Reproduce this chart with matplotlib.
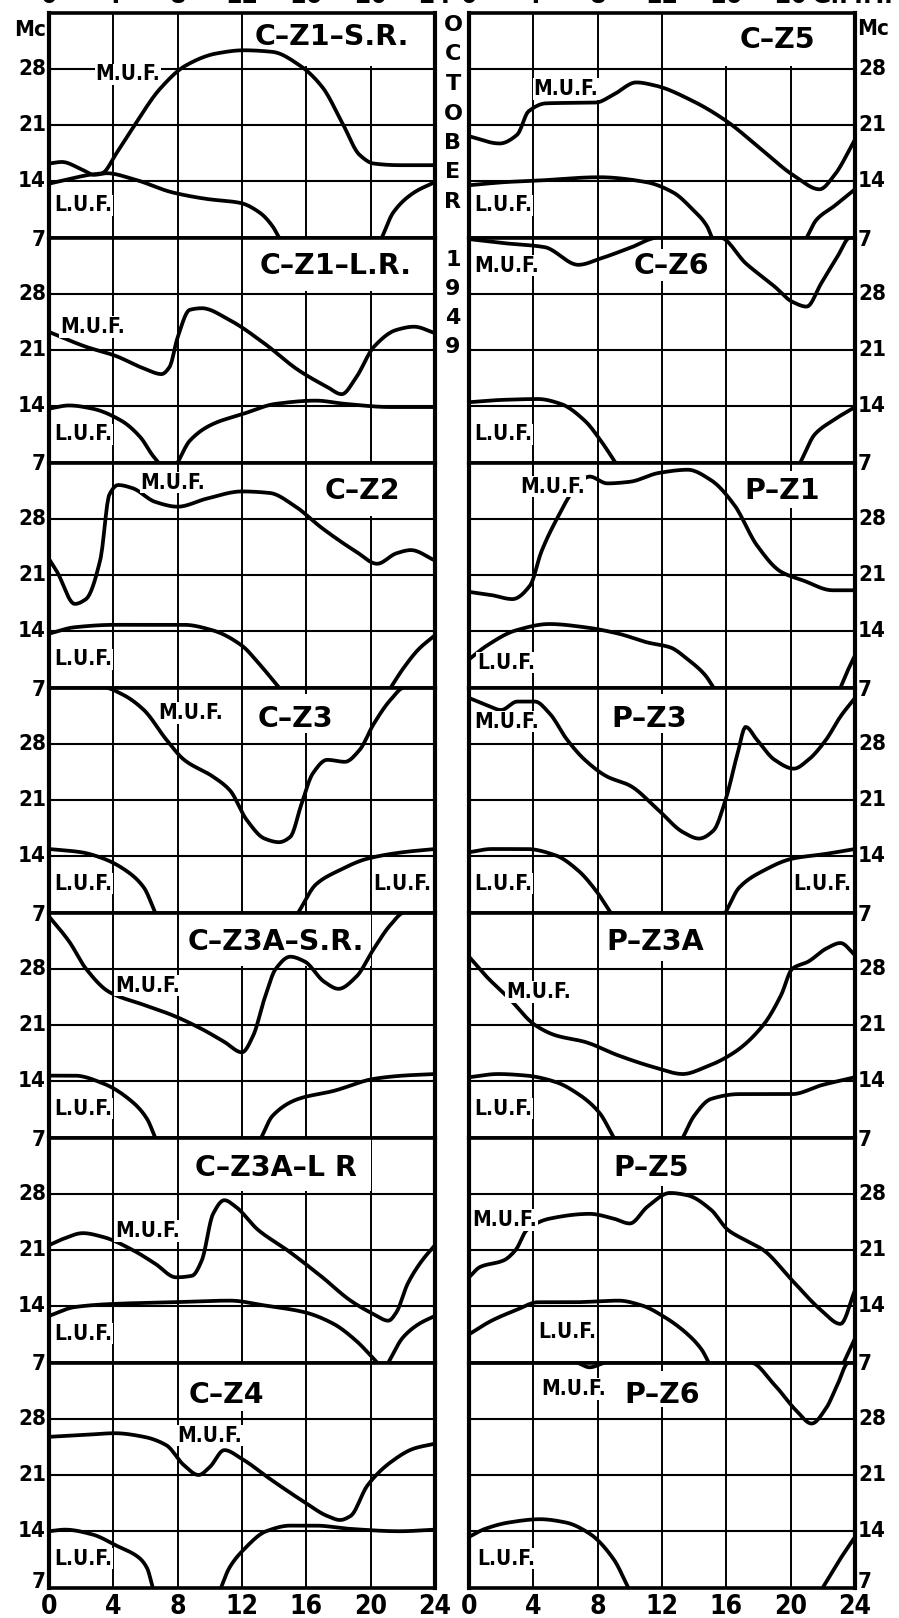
import numpy as np
import matplotlib
matplotlib.use("Agg")
import matplotlib.pyplot as plt
from matplotlib.patches import Rectangle

# ---------------------------------------------------------------------------
# Data: maximum (M.U.F.) and lowest (L.U.F.) usable frequency, Mc, vs hour GMT
# each curve is a list of (hour, Mc) pairs; L.U.F. is split into its
# morning and evening arcs (below 7 Mc it is off the chart)
# ---------------------------------------------------------------------------
hours_ticks = [0, 4, 8, 12, 16, 20, 24]
mc_ticks = [7, 14, 21, 28]

c_z1_sr_muf = [(0, 13.7), (1.3, 14.3), (2.5, 14.8), (3.3, 15.0), (4.2, 17.5), (5.2, 20.6),
               (6.9, 25.5), (8.5, 28.4), (10.4, 29.9), (12.1, 30.3), (13.9, 30.1), (15.6, 28.4),
               (17, 25.7), (18.3, 21), (19.3, 17.3), (20.2, 16.2), (21.8, 16), (24, 16)]
c_z1_sr_luf_am = [(0, 16.2), (0.8, 16.4), (2.1, 15.4), (2.8, 14.8), (3.6, 15.0), (5.2, 14.3),
                  (7.7, 12.6), (9.8, 11.8), (11.9, 11.3), (13.1, 10.1), (13.9, 8.4), (14.3, 7)]
c_z1_sr_luf_pm = [(20.7, 7), (21.4, 10.1), (22.7, 12.6), (24, 13.9)]

c_z5_muf = [(0, 19.6), (1.9, 18.7), (3, 19.8), (3.7, 22.7), (4.8, 23.7), (7.9, 23.8), (9, 24.8),
            (10.4, 26.3), (11.6, 25.9), (13.9, 24), (16, 21.5), (18.1, 18.1), (20.2, 14.7),
            (21.8, 13), (22.7, 14.7), (24, 19.2)]
c_z5_luf_am = [(0, 13.5), (2.3, 13.9), (4.4, 14.1), (8.1, 14.5), (11, 13.9), (12.7, 12.6),
               (13.9, 10.5), (14.8, 8.4), (15.1, 7)]
c_z5_luf_pm = [(21, 7), (21.6, 9.2), (22.7, 10.9), (24, 13)]

c_z1_lr_muf = [(0, 23.25), (2.3, 21.4), (4.1, 20.3), (5.9, 18.7), (7, 18), (7.5, 18.9), (8, 22.6),
               (8.75, 26), (9.5, 26.2), (11.25, 24.7), (13.4, 21.8), (15.5, 18.5), (17.3, 16.4),
               (18.2, 15.5), (19.1, 17.6), (20.2, 21.4), (21.6, 23.5), (22.7, 23.9), (24, 23.1)]
c_z1_lr_luf_am = [(0, 13.7), (1.25, 14.1), (2.7, 13.7), (4.5, 12.2), (5.7, 10.1), (6.4, 8), (6.8, 7)]
c_z1_lr_luf_pm = [(8, 7), (8.75, 9.7), (10.2, 11.8), (12, 13), (14.1, 14.3), (16.6, 14.7),
                  (18.4, 14.3), (21.25, 13.9), (24, 13.9)]

c_z6_muf = [(0, 34.8), (2.15, 34.3), (4.7, 33.8), (6.8, 31.6), (8.2, 32.4), (10, 33.7), (11.8, 35),
            (15.6, 35), (17.2, 31.8), (19, 28.9), (20.1, 27), (21, 26.4), (21.9, 29.3),
            (22.9, 32.6), (23.7, 35), (24, 35)]
c_z6_luf_am = [(0, 14.5), (2.15, 14.8), (4.3, 14.9), (5.7, 14.3), (7.2, 12.2), (8.2, 9.7), (9.1, 7)]
c_z6_luf_pm = [(20.6, 7), (21.5, 10.5), (22.6, 12.2), (24, 13.9)]

c_z2_muf = [(0, 23), (0.5, 21.4), (1.6, 17.4), (2.3, 18), (3.2, 23), (3.75, 31), (4.3, 32.2),
            (5.2, 31.8), (6.6, 30.1), (8, 29.5), (9.8, 30.5), (12, 31.4), (13.75, 31.2),
            (15.2, 29.7), (17, 26.8), (19.1, 23.9), (20.4, 22.4), (21.6, 23.7), (22.5, 24.1), (24, 22.8)]
c_z2_luf_am = [(0, 13.7), (1.6, 14.5), (4.1, 14.8), (8.4, 14.8), (10.2, 14.1), (12, 12.2),
               (13, 10.1), (14.3, 7)]
c_z2_luf_pm = [(21.25, 7), (22, 9.3), (23, 11.8), (24, 13.5)]

p_z1_muf = [(0, 18.9), (1.4, 18.5), (2.7, 18), (3.8, 19.7), (4.5, 23.9), (5.6, 28.5), (6.45, 31.4),
            (7.5, 33.25), (8.6, 32.4), (10, 32.6), (11.8, 33.7), (13.6, 34.1), (15.05, 32.8),
            (16.5, 29.7), (17.9, 24.7), (19.4, 21.4), (20.8, 20.3), (22.6, 19.1), (24, 19.1)]
p_z1_luf_am = [(0, 10.5), (1.1, 12.2), (2.9, 14.1), (5, 14.9), (7.2, 14.5), (9.3, 13.7),
               (11.1, 12.6), (12.5, 12), (13.6, 10.5), (14.7, 8.5), (15.2, 7)]
p_z1_luf_pm = [(23.1, 7), (23.5, 8.9), (24, 11)]

c_z3_muf = [(0, 35), (3.4, 35), (4.6, 34.1), (5.9, 32.2), (7.3, 28.5), (8.4, 26), (10.2, 23.9),
            (11.25, 22.2), (12.3, 18.5), (13.4, 16.2), (14.3, 15.75), (15, 16.4), (15.7, 20.5),
            (16.4, 24.3), (17.3, 26), (18.4, 25.75), (19.3, 27.2), (20.2, 30.5), (21.25, 33.5),
            (22.1, 35), (24, 35)]
c_z3_luf_am = [(0, 14.9), (2, 14.5), (3.4, 13.7), (4.8, 12.2), (5.9, 10.1), (6.6, 7)]
c_z3_luf_pm = [(15.5, 7), (16.6, 10.5), (18, 12.2), (19.8, 13.7), (22, 14.5), (24, 14.9)]

p_z3_muf = [(0, 33.7), (1.1, 32.8), (2, 32.2), (3, 33.25), (4.1, 33.25), (5, 31.8), (6.1, 28.5),
            (7.2, 26), (8.6, 23.9), (10, 22.8), (11.8, 19.7), (13.3, 17), (14.3, 16.2), (15.2, 17.2),
            (15.95, 21), (16.7, 26.8), (17.2, 30.1), (17.9, 28.5), (19, 26), (20.2, 24.9),
            (21.1, 26), (22.2, 28.5), (23.1, 31.4), (24, 33.7)]
p_z3_luf_am = [(0, 14.5), (1.4, 14.9), (3.6, 14.9), (5.4, 14.1), (6.8, 12.2), (7.9, 9.7), (8.8, 7)]
p_z3_luf_pm = [(15.95, 7), (16.8, 10.1), (18.3, 12.2), (20.1, 13.7), (22.2, 14.3), (24, 14.9)]

c_z3a_sr_muf = [(0, 34.5), (1.25, 31.4), (2.3, 28), (3.75, 25.1), (5.9, 23.5), (7.7, 22.2),
                (9.5, 20.5), (10.9, 18.9), (12, 17.6), (12.7, 19.7), (13.4, 24.3), (14.1, 28),
                (15, 29.5), (15.9, 28.9), (17.1, 26.4), (18, 25.5), (19.1, 27), (20.2, 30.5),
                (21.25, 33.5), (22.1, 35), (24, 35)]
c_z3a_sr_luf_am = [(0, 14.7), (1.6, 14.7), (3.4, 13.7), (5.2, 11.4), (6.1, 9.3), (6.6, 7)]
c_z3a_sr_luf_pm = [(13.2, 7), (13.9, 9.7), (15.5, 11.8), (17.7, 12.8), (20.2, 14.3), (22, 14.7), (24, 14.9)]

p_z3a_muf = [(0, 29.5), (1.1, 27), (2.5, 24.3), (4.1, 21), (5.4, 19.7), (7.2, 18.9), (9.3, 17.2),
             (11.5, 15.75), (13.3, 14.9), (14.7, 15.75), (16.5, 17.6), (18.3, 21), (19.4, 24.7),
             (20.1, 28), (21.1, 28.9), (22.2, 30.5), (23.1, 31.2), (24, 29.7)]
p_z3a_luf_am = [(0, 14.5), (1.8, 14.9), (3.6, 14.7), (5.4, 13.9), (6.8, 12.4), (8.1, 10.1), (9, 7)]
p_z3a_luf_pm = [(13.3, 7), (14, 9.7), (15.05, 11.8), (16.8, 12.4), (18.6, 12.4), (20.1, 12.4),
                (21.9, 13.5), (24, 14.5)]

c_z3a_lr_muf = [(0, 21.6), (0.9, 22.4), (2.1, 23.1), (3.4, 22.6), (5.2, 21), (6.6, 19.3), (7.9, 17.6),
                (8.9, 17.8), (9.5, 19.7), (10.2, 25.5), (10.9, 27.2), (11.6, 26.4), (13, 23.5),
                (14.8, 21), (17, 17.6), (18.75, 14.7), (20.2, 13), (21.1, 12.2), (21.6, 13.25),
                (22.3, 16.8), (23.2, 19.7), (24, 21.6)]
c_z3a_lr_luf_am = [(0, 12.8), (1.6, 13.9), (4.1, 14.3), (7.7, 14.5), (11.25, 14.7), (13.4, 14.1),
                   (15.9, 13.25), (17.7, 11.8), (19.1, 9.7), (20.4, 7)]
c_z3a_lr_luf_pm = [(21.1, 7), (22, 10.1), (23, 11.8), (24, 12.8)]

p_z5_muf = [(0, 17.6), (0.7, 18.9), (2.15, 19.7), (2.9, 21), (3.6, 23.5), (5, 24.9), (7.5, 25.5),
            (9, 24.9), (10, 24.3), (11.1, 26.4), (12.5, 28.1), (13.6, 27.8), (15.05, 26),
            (16.1, 23.5), (17.2, 22.2), (18.3, 21), (20.1, 17.2), (21.9, 13.5), (23.1, 11.8), (24, 16)]
p_z5_luf_am = [(0, 10.5), (1.4, 12.2), (2.9, 13.5), (4.3, 14.5), (6.45, 14.5), (9.3, 14.7),
               (10.75, 14.1), (12.2, 12.6), (13.6, 10.5), (14.5, 8.5), (14.9, 7)]
p_z5_luf_pm = [(23.3, 7), (24, 10)]

c_z4_muf = [(0, 25.75), (2.3, 26), (4.1, 26.2), (5.9, 25.75), (7.3, 24.7), (8.4, 22.2), (9.3, 21),
            (10, 22), (10.9, 24.1), (12, 23), (13.75, 20.5), (15.9, 17.6), (17.3, 15.9),
            (18.1, 15.4), (18.75, 15.9), (19.8, 19.7), (21.25, 22.6), (22.7, 24.3), (24, 24.9)]
c_z4_luf_am = [(0, 14), (1, 14.2), (2.7, 13.6), (4.2, 12.2), (5.6, 10.7), (6.1, 9.4), (6.45, 7)]
c_z4_luf_pm = [(10.7, 7), (11.2, 9.4), (12.1, 11.7), (13.5, 14), (15, 14.7), (16.6, 14.7),
               (18.7, 14.3), (21.8, 14), (24, 14.2)]

p_z6_muf = [(0, 35), (6.6, 35), (7.5, 34.4), (8.6, 35), (17.5, 35), (19, 32.2), (20.4, 28.9),
            (21.3, 27.4), (22.2, 29.3), (22.9, 32.2), (23.6, 35), (24, 35)]
p_z6_luf_am = [(0, 13.3), (1, 14.3), (2.5, 15.1), (4.4, 15.5), (6, 15.1), (7.5, 13.7), (9, 10.5), (9.9, 7)]
p_z6_luf_pm = [(22, 7), (23, 10.3), (24, 13.3)]

# panel titles
left_titles = ["C–Z1–S.R.", "C–Z1–L.R.", "C–Z2", "C–Z3", "C–Z3A–S.R.", "C–Z3A–L R", "C–Z4"]
right_titles = ["C–Z5", "C–Z6", "P–Z1", "P–Z3", "P–Z3A", "P–Z5", "P–Z6"]

# ---------------------------------------------------------------------------
# layout (figure pixels)
# ---------------------------------------------------------------------------
W, H = 899, 1618
COL_X = [49, 469]
COL_W = 386
ROW_TOP = 12.5
ROW_H = 225.0

fig = plt.figure(figsize=(W / 100, H / 100), dpi=100)
fig.patch.set_facecolor("white")

FONT = "DejaVu Sans"


def fx(x):
    return x / W


def fy(y):
    return 1 - y / H


def pchip(points, n=240):
    """Shape-preserving cubic through the read points."""
    x = np.array([p[0] for p in points], float)
    y = np.array([p[1] for p in points], float)
    if len(x) == 2:
        xs = np.linspace(x[0], x[1], n)
        return xs, np.interp(xs, x, y)
    h = np.diff(x)
    d = np.diff(y) / h
    m = np.zeros_like(y)
    for k in range(1, len(x) - 1):
        if d[k - 1] * d[k] > 0:
            w1 = 2 * h[k] + h[k - 1]
            w2 = h[k] + 2 * h[k - 1]
            m[k] = (w1 + w2) / (w1 / d[k - 1] + w2 / d[k])
    m[0] = d[0]
    m[-1] = d[-1]
    xs = np.linspace(x[0], x[-1], n)
    i = np.clip(np.searchsorted(x, xs) - 1, 0, len(x) - 2)
    t = (xs - x[i]) / h[i]
    h00 = 2 * t**3 - 3 * t**2 + 1
    h10 = t**3 - 2 * t**2 + t
    h01 = -2 * t**3 + 3 * t**2
    h11 = t**3 - t**2
    ys = h00 * y[i] + h10 * h[i] * m[i] + h01 * y[i + 1] + h11 * h[i] * m[i + 1]
    return xs, ys


def make_panel(col, row):
    top = ROW_TOP + row * ROW_H
    ax = fig.add_axes([fx(COL_X[col]), fy(top + ROW_H), COL_W / W, ROW_H / H])
    ax.set_xlim(0, 24)
    ax.set_ylim(7, 35)
    ax.set_xticks([])
    ax.set_yticks([])
    ax.set_facecolor("white")
    for side in ("left", "right"):
        ax.spines[side].set_linewidth(3.0)
    for side in ("top", "bottom"):
        ax.spines[side].set_linewidth(2.6)
    for s in ax.spines.values():
        s.set_zorder(6)
    ax.vlines(hours_ticks[1:-1], 7, 35, color="black", lw=1.4, zorder=1)
    ax.hlines(mc_ticks[1:], 0, 24, color="black", lw=1.5, zorder=1)
    return ax


def draw_curve(ax, points):
    xs, ys = pchip(points)
    ax.plot(xs, ys, color="black", lw=2.7, solid_capstyle="round",
            solid_joinstyle="round", zorder=4)


def title_box(ax, text, box, center):
    h0, h1, v0, v1 = box
    ax.add_patch(Rectangle((h0, v0), h1 - h0, v1 - v0, facecolor="white",
                           edgecolor="none", zorder=2))
    ax.text(center[0], center[1], text, ha="center", va="center",
            fontsize=20.5, family=FONT, fontweight="bold", zorder=5)


def label(ax, text, h, v):
    ax.text(h, v, text, ha="left", va="center", fontsize=15, family=FONT,
            fontstretch="condensed", fontweight="bold", zorder=5,
            bbox=dict(facecolor="white", edgecolor="none", pad=0.6))


panels = [
    # (col, row, title, box, title centre, muf, luf arcs, muf label, luf labels)
    (0, 0, left_titles[0], (12.3, 24, 28.3, 35), (17.6, 31.9), c_z1_sr_muf,
     [c_z1_sr_luf_am, c_z1_sr_luf_pm], (2.9, 27.3), [(0.3, 11.0)]),
    (1, 0, right_titles[0], (12.3, 24, 28.3, 35), (19.2, 31.6), c_z5_muf,
     [c_z5_luf_am, c_z5_luf_pm], (4.0, 25.5), [(0.3, 11.0)]),
    (0, 1, left_titles[1], (12.3, 24, 28.3, 35), (17.8, 31.4), c_z1_lr_muf,
     [c_z1_lr_luf_am, c_z1_lr_luf_pm], (0.7, 23.9), [(0.35, 10.5)]),
    (1, 1, right_titles[1], (9.7, 15.4, 29.6, 33.6), (12.6, 31.4), c_z6_muf,
     [c_z6_luf_am, c_z6_luf_pm], (0.35, 31.5), [(0.35, 10.5)]),
    (0, 2, left_titles[2], (16.2, 24, 28.3, 35), (19.5, 31.4), c_z2_muf,
     [c_z2_luf_am, c_z2_luf_pm], (5.7, 32.5), [(0.35, 10.5)]),
    (1, 2, right_titles[2], (16.6, 23, 29.3, 34), (19.5, 31.4), p_z1_muf,
     [p_z1_luf_am, p_z1_luf_pm], (3.2, 32.0), [(0.5, 10.1)]),
    (0, 3, left_titles[3], (12.4, 18.4, 29.4, 34.2), (15.3, 31.1), c_z3_muf,
     [c_z3_luf_am, c_z3_luf_pm], (6.8, 31.8), [(0.35, 10.6), (20.15, 10.6)]),
    (1, 3, right_titles[3], (8.3, 14.2, 29.4, 34.2), (11.2, 31.1), p_z3_muf,
     [p_z3_luf_am, p_z3_luf_pm], (0.3, 30.75), [(0.35, 10.6), (20.15, 10.6)]),
    (0, 4, left_titles[4], (8.2, 20, 28.3, 35), (14.1, 31.3), c_z3a_sr_muf,
     [c_z3a_sr_luf_am, c_z3a_sr_luf_pm], (4.1, 25.9), [(0.35, 10.6)]),
    (1, 4, right_titles[4], (8.2, 15.3, 29.0, 35), (11.6, 31.3), p_z3a_muf,
     [p_z3a_luf_am, p_z3a_luf_pm], (2.3, 25.1), [(0.35, 10.6)]),
    (0, 5, left_titles[5], (8.2, 20, 28.3, 35), (14.1, 31.2), c_z3a_lr_muf,
     [c_z3a_lr_luf_am, c_z3a_lr_luf_pm], (4.1, 23.4), [(0.35, 10.6)]),
    (1, 5, right_titles[5], (8.3, 14.3, 29.0, 35), (11.3, 31.2), p_z5_muf,
     [p_z5_luf_am, p_z5_luf_pm], (0.2, 24.7), [(4.3, 10.75)]),
    (0, 6, left_titles[6], (8.2, 14.5, 29.0, 35), (11.0, 31.0), c_z4_muf,
     [c_z4_luf_am, c_z4_luf_pm], (8.0, 25.9), [(0.35, 10.6)]),
    (1, 6, right_titles[6], (8.5, 15.6, 29.5, 34), (12.0, 31.0), p_z6_muf,
     [p_z6_luf_am, p_z6_luf_pm], (4.5, 31.7), [(0.5, 10.6)]),
]

for col, row, title, box, centre, muf, lufs, muf_pos, luf_pos in panels:
    ax = make_panel(col, row)
    title_box(ax, title, box, centre)
    draw_curve(ax, muf)
    for arc in lufs:
        draw_curve(ax, arc)
    label(ax, "M.U.F.", *muf_pos)
    for lp in luf_pos:
        label(ax, "L.U.F.", *lp)

# ---------------------------------------------------------------------------
# axis annotations
# ---------------------------------------------------------------------------
tick_kw = dict(fontsize=16, family=FONT, fontweight="bold", fontstretch="condensed")

for row in range(7):
    top = ROW_TOP + row * ROW_H
    for v in mc_ticks:
        y = top + (35 - v) / 28 * ROW_H
        if v == 7:
            y += 2 if row < 6 else -6
        fig.text(fx(46), fy(y), str(v), ha="right", va="center", **tick_kw)
        fig.text(fx(858), fy(y), str(v), ha="left", va="center", **tick_kw)

fig.text(fx(46), fy(30), "Mc", ha="right", va="center", **tick_kw)
fig.text(fx(857), fy(29), "Mc", ha="left", va="center", **tick_kw)

# hour scale along the bottom and (cut by the page edge) along the top
hour_kw = dict(fontsize=19, family=FONT, fontweight="bold", fontstretch="condensed")
for col in range(2):
    for hr in hours_ticks:
        x = COL_X[col] + hr / 24 * COL_W
        fig.text(fx(x), fy(1607), str(hr), ha="center", va="center", **hour_kw)
        if col == 1 and hr == 24:
            continue
        fig.text(fx(x), fy(-4), str(hr), ha="center", va="center", **hour_kw)
fig.text(fx(COL_X[1] + 21.3 / 24 * COL_W), fy(-4), "G.M.T.", ha="left", va="center", **hour_kw)

# date written down the gap between the columns
month = "OCTOBER"
year = "1949"
for i, ch in enumerate(month):
    fig.text(fx(453), fy(25 + i * 29.5), ch, ha="center", va="center",
             fontsize=16, family=FONT, fontweight="bold")
for i, ch in enumerate(year):
    fig.text(fx(453), fy(260 + i * 29), ch, ha="center", va="center",
             fontsize=16, family=FONT, fontweight="bold")

fig.savefig("out.png", dpi=100, facecolor="white")
